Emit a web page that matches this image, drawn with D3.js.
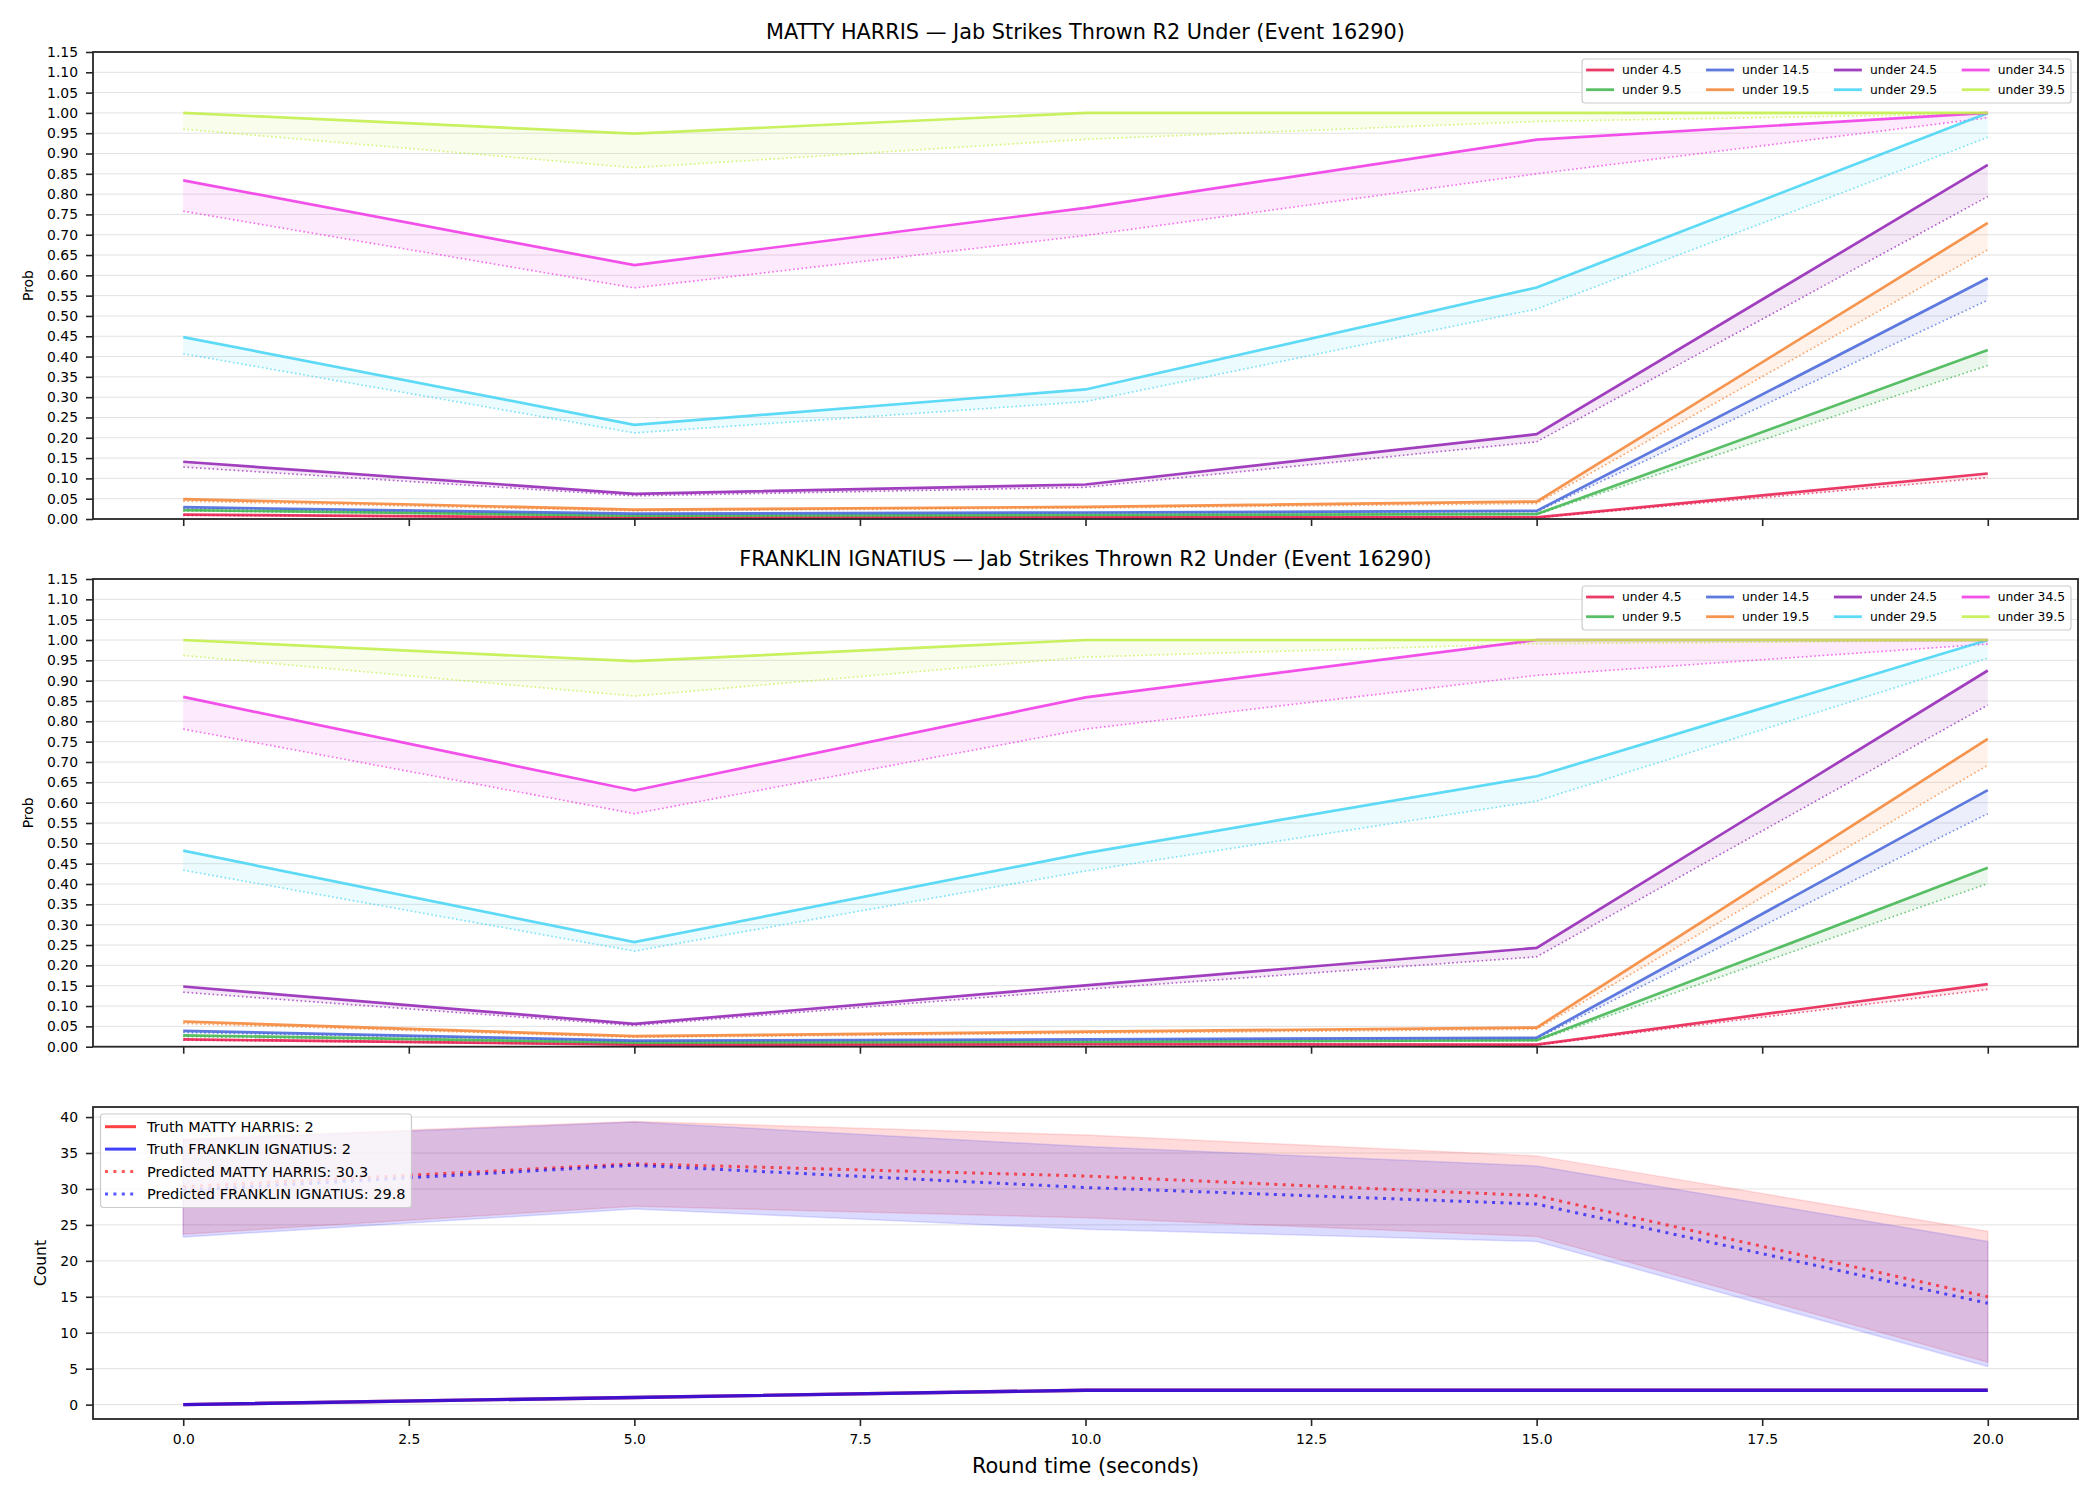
<!DOCTYPE html>
<html lang="en">
<head>
<meta charset="UTF-8">
<title>Jab Strikes Thrown R2 Under (Event 16290)</title>
<script src="https://d3js.org/d3.v7.min.js"></script>
<style>
  body { margin: 0; background: #fff; }
  text { font-family: "DejaVu Sans", sans-serif; fill: #000; }
  .grid line { stroke: #e2e2e2; stroke-width: 1; }
  .tick line { stroke: #262626; stroke-width: 1.6; }
  .frame { fill: none; stroke: #262626; stroke-width: 1.8; }
</style>
</head>
<body>
<div id="chart"></div>
<script>
// round time (x)
const times = [0, 5, 10, 15, 20];
const timeTicks = [0, 2.5, 5, 7.5, 10, 12.5, 15, 17.5, 20];
const probTicks = [0, 0.05, 0.10, 0.15, 0.20, 0.25, 0.30, 0.35, 0.40, 0.45, 0.50, 0.55,
                   0.60, 0.65, 0.70, 0.75, 0.80, 0.85, 0.90, 0.95, 1.00, 1.05, 1.10, 1.15];
const countTicks = [0, 5, 10, 15, 20, 25, 30, 35, 40];

const lineNames = ["under 4.5", "under 9.5", "under 14.5", "under 19.5",
                   "under 24.5", "under 29.5", "under 34.5", "under 39.5"];
const lineColors = ["#e6194b", "#3cb44b", "#4363d8", "#f58231",
                    "#911eb4", "#42d4f4", "#f032e6", "#bfef45"];

// MATTY HARRIS: solid line and dotted lower line per threshold
const harrisProb = [
  [0.011, 0.003, 0.004, 0.004, 0.112],
  [0.022, 0.008, 0.010, 0.012, 0.416],
  [0.029, 0.013, 0.016, 0.020, 0.593],
  [0.049, 0.023, 0.030, 0.043, 0.729],
  [0.141, 0.062, 0.085, 0.209, 0.872],
  [0.448, 0.232, 0.319, 0.570, 1.000],
  [0.834, 0.625, 0.766, 0.934, 1.000],
  [1.000, 0.949, 1.000, 1.000, 1.000]
];
const harrisLow = [
  [0.009, 0.003, 0.003, 0.003, 0.102],
  [0.020, 0.007, 0.009, 0.011, 0.378],
  [0.026, 0.011, 0.014, 0.018, 0.539],
  [0.044, 0.020, 0.027, 0.038, 0.663],
  [0.128, 0.057, 0.078, 0.190, 0.794],
  [0.407, 0.212, 0.289, 0.517, 0.940],
  [0.758, 0.569, 0.698, 0.850, 0.988],
  [0.960, 0.865, 0.935, 0.979, 0.998]
];

// FRANKLIN IGNATIUS
const franklinProb = [
  [0.018, 0.005, 0.006, 0.005, 0.154],
  [0.028, 0.010, 0.012, 0.016, 0.440],
  [0.039, 0.015, 0.018, 0.022, 0.631],
  [0.062, 0.026, 0.037, 0.047, 0.757],
  [0.148, 0.056, 0.151, 0.243, 0.925],
  [0.482, 0.257, 0.476, 0.665, 1.000],
  [0.860, 0.630, 0.859, 1.000, 1.000],
  [1.000, 0.948, 1.000, 1.000, 1.000]
];
const franklinLow = [
  [0.016, 0.005, 0.005, 0.004, 0.141],
  [0.025, 0.009, 0.011, 0.014, 0.401],
  [0.035, 0.014, 0.016, 0.020, 0.573],
  [0.057, 0.023, 0.033, 0.043, 0.692],
  [0.134, 0.052, 0.141, 0.221, 0.840],
  [0.434, 0.235, 0.432, 0.604, 0.955],
  [0.781, 0.573, 0.781, 0.913, 0.990],
  [0.962, 0.862, 0.958, 0.991, 0.998]
];

// count panel
const truthHarris = [0, 1, 2, 2, 2];
const truthFranklin = [0, 1, 2, 2, 2];
const predHarris = [30.3, 33.5, 31.8, 29.05, 15.0];
const predFranklin = [29.8, 33.3, 30.2, 27.9, 14.1];
const harrisHigh = [37.0, 39.4, 37.5, 34.6, 24.1];
const harrisLowCount = [23.7, 27.6, 26.0, 23.4, 5.9];
const franklinHigh = [36.8, 39.3, 35.9, 33.2, 22.7];
const franklinLowCount = [23.3, 27.2, 24.4, 22.7, 5.3];

const W = 2100, H = 1500;
const left = 93, right = 2078;

const svg = d3.select('#chart').append('svg')
    .attr('width', W)
    .attr('height', H);

const x = d3.scaleLinear().domain([-1, 21]).range([left, right]);

// grid, box, axes and clip for one panel
function panelFrame(id, y, top, bottom, yTicks, yFormat, showXLabels) {
    const g = svg.append('g');

    svg.append('clipPath').attr('id', 'clip-' + id)
        .append('rect')
        .attr('x', left).attr('y', top)
        .attr('width', right - left).attr('height', bottom - top);

    g.append('g').attr('class', 'grid')
        .selectAll('line')
        .data(yTicks)
        .enter().append('line')
        .attr('x1', left).attr('x2', right)
        .attr('y1', d => y(d)).attr('y2', d => y(d));

    const plot = g.append('g').attr('clip-path', `url(#clip-${id})`);

    // y axis
    const ya = g.append('g')
        .attr('transform', `translate(${left},0)`)
        .call(d3.axisLeft(y).tickValues(yTicks).tickFormat(yFormat).tickSize(7).tickPadding(8));
    ya.select('.domain').remove();
    ya.selectAll('text').style('font-size', '13.9px').attr('fill', '#000');

    // x axis
    const xa = g.append('g')
        .attr('transform', `translate(0,${bottom})`)
        .call(d3.axisBottom(x).tickValues(timeTicks).tickFormat(d3.format('.1f')).tickSize(7).tickPadding(8));
    xa.select('.domain').remove();
    if (showXLabels) {
        xa.selectAll('text').style('font-size', '13.9px').attr('fill', '#000');
    } else {
        xa.selectAll('text').remove();
    }

    return { g: g, plot: plot };
}

function drawProbPanel(id, top, bottom, title, prob, low) {
    const y = d3.scaleLinear().domain([0, 1.15]).range([bottom, top]);
    const p = panelFrame(id, y, top, bottom, probTicks, d3.format('.2f'), false);

    const line = d3.line().x((d, i) => x(times[i])).y(d => y(d));
    const area = d3.area()
        .x(d => x(d.t))
        .y0(d => y(d.lo))
        .y1(d => y(d.hi));

    // bands first
    lineNames.forEach((name, k) => {
        const rows = times.map((t, i) => ({ t: t, lo: low[k][i], hi: prob[k][i] }));
        p.plot.append('path')
            .attr('d', area(rows))
            .attr('fill', lineColors[k])
            .attr('fill-opacity', 0.1)
            .attr('stroke', 'none');
    });
    // dotted lower lines
    lineNames.forEach((name, k) => {
        p.plot.append('path')
            .attr('d', line(low[k]))
            .attr('fill', 'none')
            .attr('stroke', lineColors[k])
            .attr('stroke-width', 1.6)
            .attr('stroke-dasharray', '1.6,2.6')
            .attr('stroke-opacity', 0.7);
    });
    // solid lines
    lineNames.forEach((name, k) => {
        p.plot.append('path')
            .attr('d', line(prob[k]))
            .attr('fill', 'none')
            .attr('stroke', lineColors[k])
            .attr('stroke-width', 2.7)
            .attr('stroke-opacity', 0.85);
    });

    p.g.append('rect').attr('class', 'frame')
        .attr('x', left).attr('y', top)
        .attr('width', right - left).attr('height', bottom - top);

    p.g.append('text')
        .attr('x', (left + right) / 2)
        .attr('y', top - 13)
        .attr('text-anchor', 'middle')
        .style('font-size', '20.8px')
        .text(title);

    p.g.append('text')
        .attr('transform', `translate(33,${(top + bottom) / 2}) rotate(-90)`)
        .attr('text-anchor', 'middle')
        .style('font-size', '13.9px')
        .text('Prob');

    // legend, 4 columns x 2 rows, filled by column
    const lg = p.g.append('g');
    const box = lg.append('rect')
        .attr('fill', '#fff').attr('fill-opacity', 0.8)
        .attr('stroke', '#cccccc').attr('stroke-width', 1.2)
        .attr('rx', 3);
    const items = lg.append('g');
    let cx = 0;
    for (let c = 0; c < 4; c++) {
        let maxW = 0;
        for (let r = 0; r < 2; r++) {
            const k = c * 2 + r;
            const cy = 11 + r * 19.7;
            items.append('line')
                .attr('x1', cx).attr('x2', cx + 28)
                .attr('y1', cy).attr('y2', cy)
                .attr('stroke', lineColors[k])
                .attr('stroke-width', 2.8)
                .attr('stroke-opacity', 0.85);
            const t = items.append('text')
                .attr('x', cx + 36).attr('y', cy)
                .attr('dy', '0.36em')
                .style('font-size', '12.3px')
                .text(lineNames[k]);
            maxW = Math.max(maxW, t.node().getComputedTextLength());
        }
        cx += 36 + maxW + (c < 3 ? 24.5 : 0);
    }
    const bw = cx + 10;
    const bx = right - 7 - bw;
    box.attr('x', bx).attr('y', top + 7).attr('width', bw).attr('height', 44);
    items.attr('transform', `translate(${bx + 4},${top + 7})`);
}

drawProbPanel('p1', 52, 519, 'MATTY HARRIS \u2014 Jab Strikes Thrown R2 Under (Event 16290)', harrisProb, harrisLow);
drawProbPanel('p2', 579, 1046.7, 'FRANKLIN IGNATIUS \u2014 Jab Strikes Thrown R2 Under (Event 16290)', franklinProb, franklinLow);

// count panel
(function () {
    const top = 1107, bottom = 1419;
    const y = d3.scaleLinear().domain([-2.0, 41.4]).range([bottom, top]);
    const p = panelFrame('p3', y, top, bottom, countTicks, d3.format('d'), true);

    const line = d3.line().x((d, i) => x(times[i])).y(d => y(d));
    const area = d3.area()
        .x((d, i) => x(times[i]))
        .y0(d => y(d[0]))
        .y1(d => y(d[1]));

    const bands = [
        { lo: harrisLowCount, hi: harrisHigh, color: 'red' },
        { lo: franklinLowCount, hi: franklinHigh, color: 'blue' }
    ];
    bands.forEach(b => {
        p.plot.append('path')
            .attr('d', area(times.map((t, i) => [b.lo[i], b.hi[i]])))
            .attr('fill', b.color)
            .attr('fill-opacity', 0.14)
            .attr('stroke', b.color)
            .attr('stroke-opacity', 0.12)
            .attr('stroke-width', 1.5);
    });

    const series = [
        { v: truthHarris, color: 'red', dash: null, op: 0.75, label: 'Truth MATTY HARRIS: 2' },
        { v: truthFranklin, color: 'blue', dash: null, op: 0.75, label: 'Truth FRANKLIN IGNATIUS: 2' },
        { v: predHarris, color: 'red', dash: '3,5.4', op: 0.65, label: 'Predicted MATTY HARRIS: 30.3' },
        { v: predFranklin, color: 'blue', dash: '3,5.4', op: 0.65, label: 'Predicted FRANKLIN IGNATIUS: 29.8' }
    ];
    series.forEach(s => {
        p.plot.append('path')
            .attr('d', line(s.v))
            .attr('fill', 'none')
            .attr('stroke', s.color)
            .attr('stroke-opacity', s.op)
            .attr('stroke-width', s.dash ? 3 : 3.4)
            .attr('stroke-dasharray', s.dash);
    });

    p.g.append('rect').attr('class', 'frame')
        .attr('x', left).attr('y', top)
        .attr('width', right - left).attr('height', bottom - top);

    p.g.append('text')
        .attr('transform', `translate(46,${(top + bottom) / 2}) rotate(-90)`)
        .attr('text-anchor', 'middle')
        .style('font-size', '15.5px')
        .text('Count');

    p.g.append('text')
        .attr('x', (left + right) / 2)
        .attr('y', 1473)
        .attr('text-anchor', 'middle')
        .style('font-size', '20.8px')
        .text('Round time (seconds)');

    // legend
    const lg = p.g.append('g');
    const box = lg.append('rect')
        .attr('fill', '#fff').attr('fill-opacity', 0.8)
        .attr('stroke', '#cccccc').attr('stroke-width', 1.2)
        .attr('rx', 3);
    let maxW = 0;
    series.forEach((s, i) => {
        const cy = 1126.7 + i * 22.4;
        lg.append('line')
            .attr('x1', 105).attr('x2', 136)
            .attr('y1', cy).attr('y2', cy)
            .attr('stroke', s.color)
            .attr('stroke-opacity', s.op)
            .attr('stroke-width', 3)
            .attr('stroke-dasharray', s.dash);
        const t = lg.append('text')
            .attr('x', 147).attr('y', cy)
            .attr('dy', '0.36em')
            .style('font-size', '14.5px')
            .text(s.label);
        maxW = Math.max(maxW, t.node().getComputedTextLength());
    });
    box.attr('x', 100.5).attr('y', 1114)
        .attr('width', 147 + maxW + 6 - 100.5)
        .attr('height', 93.5);
})();
</script>
</body>
</html>
